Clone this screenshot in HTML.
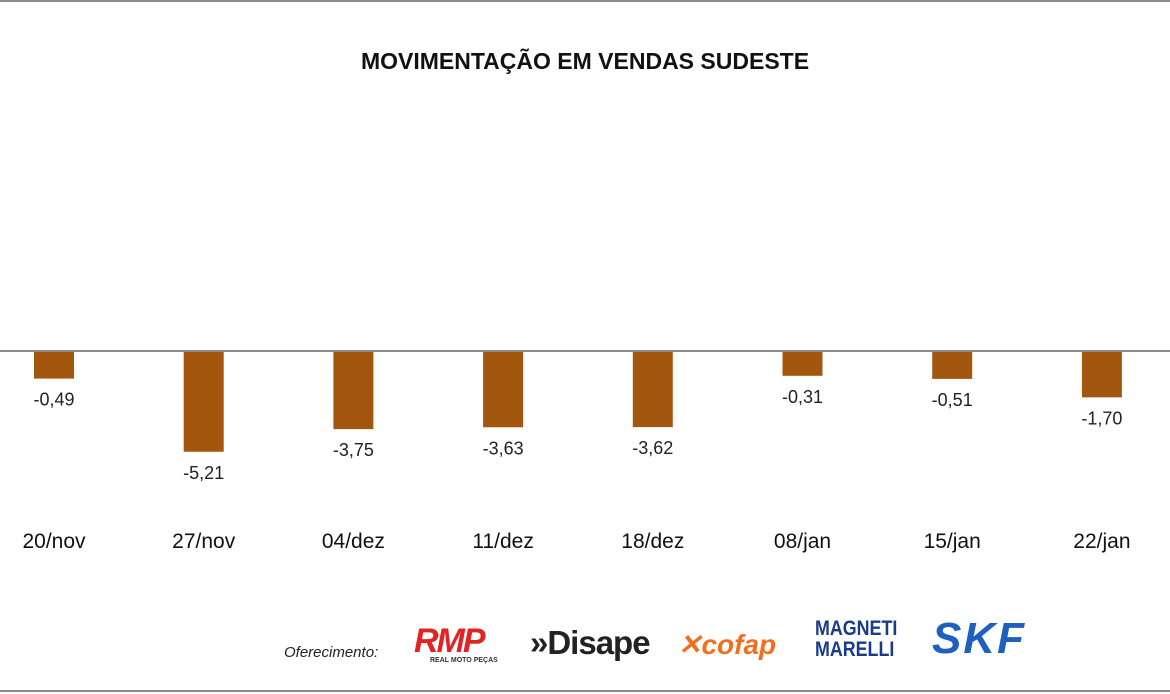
<!DOCTYPE html>
<html><head><meta charset="utf-8"><style>
body{margin:0;width:1170px;height:694px;background:#fff;overflow:hidden;font-family:"Liberation Sans",sans-serif;position:relative}
.t{position:absolute;white-space:nowrap}
</style></head><body>
<div style="position:absolute;left:0;top:0;width:1170px;height:2px;background:#8a8a8a"></div>
<div style="position:absolute;left:0;top:690px;width:1170px;height:2px;background:#8a8a8a"></div>
<div class="t" style="left:0;width:1170px;text-align:center;top:48px;font-size:23px;font-weight:bold;color:#111">MOVIMENTAÇÃO EM VENDAS SUDESTE</div>
<svg id="chart" width="1170" height="600" style="position:absolute;left:0;top:0"></svg>
<div class="t" style="left:284px;top:644px;font-size:15px;font-style:italic;color:#222">Oferecimento:</div>
<div class="t" style="left:414px;top:622px;font-size:34px;font-weight:bold;font-style:italic;color:#e02424;letter-spacing:-2px">RMP</div>
<div class="t" style="left:430px;top:657px;font-size:7px;font-weight:bold;color:#333">REAL MOTO PEÇAS</div>
<div class="t" style="left:530px;top:624px;font-size:33px;font-weight:bold;color:#222;letter-spacing:-1px">»Disape</div>
<div class="t" style="left:678px;top:628px;font-size:28px;font-weight:bold;font-style:italic;color:#f07020">✕cofap</div>
<div class="t" style="left:815px;top:618px;font-size:21px;font-weight:bold;color:#1a3a8a;line-height:21px;transform:scaleX(0.85);transform-origin:left">MAGNETI<br>MARELLI</div>
<div class="t" style="left:932px;top:614px;font-size:44px;font-weight:900;font-style:italic;color:#1f5fbf;letter-spacing:2px">SKF</div>
<script>
const categories=["20/nov","27/nov","04/dez","11/dez","18/dez","08/jan","15/jan","22/jan"];
const values=[-0.49,-5.21,-3.75,-3.63,-3.62,-0.31,-0.51,-1.70];
const labels=["-0,49","-5,21","-3,75","-3,63","-3,62","-0,31","-0,51","-1,70"];
const NS="http://www.w3.org/2000/svg";
const svg=document.getElementById('chart');
const zeroY=351;
const x=i=>54+i*149.7;
const h=v=>v===0?0:20+15.5*Math.abs(v);
function mk(tag,attrs,txt){const e=document.createElementNS(NS,tag);for(const k in attrs)e.setAttribute(k,attrs[k]);if(txt!=null)e.textContent=txt;svg.appendChild(e);return e;}
values.forEach((v,i)=>{
  const hh=h(v);
  const r=mk('rect',{x:x(i)-20,y:v<0?zeroY:zeroY-hh,width:40,height:hh,fill:'#a3560e'});
  
  
  const lt=mk('text',{x:x(i),y:zeroY+hh+27,'text-anchor':'middle','font-size':18,fill:'#222','font-family':'Liberation Sans'},labels[i]);
  
  
  const ct=mk('text',{x:x(i),y:548,'text-anchor':'middle','font-size':21,fill:'#111','font-family':'Liberation Sans'},categories[i]);
  
  
});
const zl=mk('line',{x1:0,x2:1170,y1:zeroY,y2:zeroY,stroke:'#8a8a8a','stroke-width':2});


</script>
</body></html>
